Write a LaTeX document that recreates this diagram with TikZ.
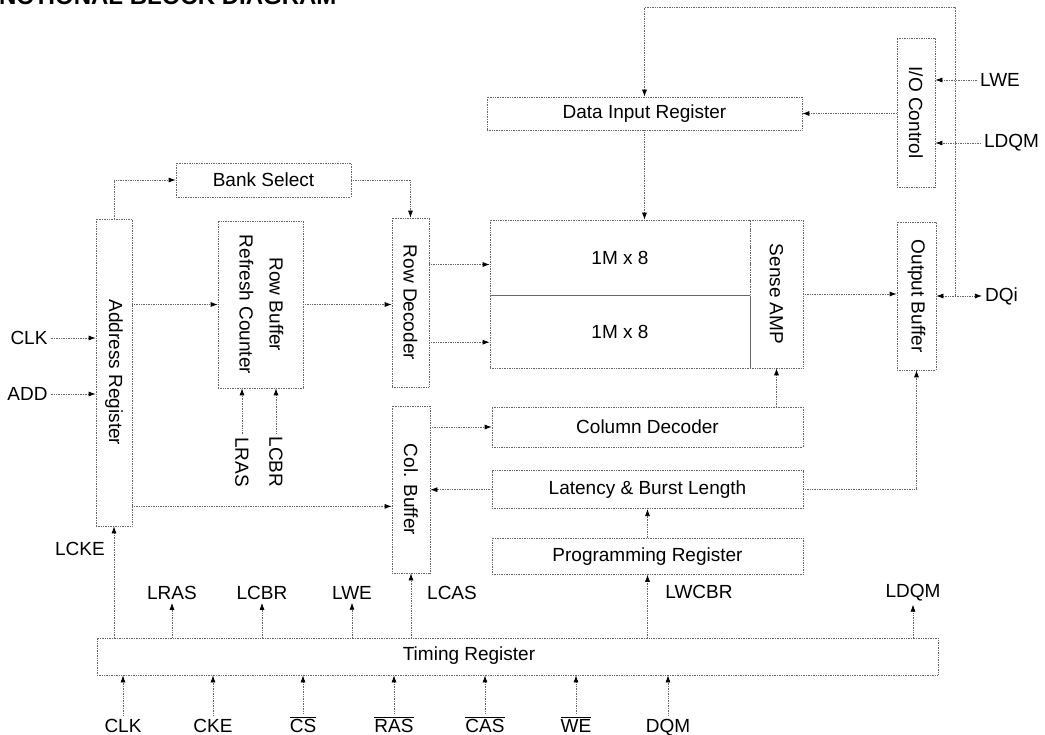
\documentclass[tikz,border=0pt]{standalone}
\usepackage{fontspec}
\setmainfont{Liberation Sans}
\usepackage{graphicx}
\usetikzlibrary{arrows.meta,positioning}

\begin{document}
\begin{tikzpicture}[
    x=1pt, y=-1pt,
    >={Latex[length=7pt,width=5pt,color=black]},
    blk/.style={draw=black!60, densely dotted, line width=0.7pt, align=center, inner sep=2pt, font=\fontsize{19}{30}\selectfont},
    sig/.style={font=\fontsize{19}{23}\selectfont, inner sep=3pt},
    pin/.style={sig, anchor=base},
    wire/.style={draw=black!60, densely dotted, line width=0.7pt, ->}
]
\useasboundingbox (0,0) rectangle (1045,735);
\node[anchor=base east, font=\bfseries\fontsize{24}{28}\selectfont] (title) at (340,5) {FUNCTIONAL BLOCK DIAGRAM};

\node[blk, minimum width=175, minimum height=34] (bank) at (263.5,180) {Bank Select};
\node[blk, minimum width=36, minimum height=307] (addr) at (114,372.5) {\rotatebox{-90}{Address Register}};
\node[blk, minimum width=85, minimum height=167] (rowbuf) at (260.5,304.5) {\rotatebox{-90}{\begin{tabular}{@{}c@{}}Row Buffer\\Refresh Counter\end{tabular}}};
\node[blk, minimum width=37, minimum height=169] (rowdec) at (410.5,302.5) {\rotatebox{-90}{Row Decoder}};
\node[blk, minimum width=38, minimum height=167] (colbuf) at (411,489.5) {\rotatebox{-90}{Col. Buffer}};
\node[blk, minimum width=315, minimum height=33] (dir) at (644.5,113.5) {Data Input Register};
\node[blk, minimum width=38, minimum height=149] (io) at (916,112.5) {\rotatebox{-90}{I/O Control}};
\node[blk, minimum width=260, minimum height=75] (arrA) at (620,257.5) {1M x 8};
\node[blk, minimum width=260, minimum height=73, below=0pt of arrA] (arrB) {1M x 8};
\node[blk, minimum width=53, minimum height=148] (sense) at (776.5,294) {\rotatebox{-90}{Sense AMP}};
\node[blk, minimum width=39, minimum height=148] (outbuf) at (916.5,296) {\rotatebox{-90}{Output Buffer}};
\node[blk, minimum width=311, minimum height=40] (coldec) at (647.5,427) {Column Decoder};
\node[blk, minimum width=311, minimum height=38, below=23pt of coldec] (lat) {Latency \& Burst Length};
\node[blk, minimum width=311, minimum height=36, below=29pt of lat] (prog) {Programming Register};
\node[blk, minimum width=841, minimum height=37] (timing) at (517.5,656.5) {};
\node[sig] (timinglbl) at (469,656) {Timing Register};

\node[sig] (clk) at (29,338) {CLK};
\node[sig] (add) at (27.5,394) {ADD};
\node[sig] (lwe) at (1000,80) {LWE};
\node[sig] (ldqm) at (1011.5,143) {LDQM};
\node[sig] (dqi) at (1001.5,296) {DQi};
\node[sig] (lcke) at (80,549) {LCKE};
\node[sig] (lras) at (172,593) {LRAS};
\node[sig] (lcbr) at (262,593) {LCBR};
\node[sig] (tlwe) at (352,593) {LWE};
\node[sig] (lcas) at (452,593) {LCAS};
\node[sig] (lwcbr) at (699,592) {LWCBR};
\node[sig] (tldqm) at (913,593) {LDQM};
\node[sig, rotate=-90] (rlras) at (242,462) {LRAS};
\node[sig, rotate=-90] (rlcbr) at (276,462) {LCBR};

\node[pin] (iclk) at (123,732) {CLK};
\node[pin] (icke) at (213,732) {CKE};
\node[pin] (ics) at (303,732) {$\overline{\hbox{CS}}$};
\node[pin] (iras) at (394,732) {$\overline{\hbox{RAS}}$};
\node[pin] (icas) at (485,732) {$\overline{\hbox{CAS}}$};
\node[pin] (iwe) at (576,732) {$\overline{\hbox{WE}}$};
\node[pin] (idqm) at (668,732) {DQM};

\coordinate (dqtap) at (955,296);
\coordinate (dqtop) at (955,7);
\coordinate (addrtap) at ([yshift=20pt]addr.south east);

\draw[wire] (clk.east) -- (clk -| addr.west);
\draw[wire] (add.east) -- (add -| addr.west);
\draw[wire] (addr.north) |- (bank.west);
\draw[wire] (bank.east) -| (rowdec.north);
\draw[wire] (addr.east |- rowbuf.west) -- (rowbuf.west);
\draw[wire] (rowbuf.east) -- (rowbuf.east -| rowdec.west);
\draw[wire] ([yshift=-7pt]arrA.west -| rowdec.east) -- ([yshift=-7pt]arrA.west);
\draw[wire] ([yshift=-10pt]arrB.west -| rowdec.east) -- ([yshift=-10pt]arrB.west);
\draw[wire] (dqtap) -- (dqtop) -| (dir.north);
\draw[wire] (dir.south) -- (dir.south |- arrA.north);
\draw[wire] (io.west |- dir.east) -- (dir.east);
\draw[wire] (lwe.west) -- (lwe -| io.east);
\draw[wire] (ldqm.west) -- (ldqm -| io.east);
\draw[wire] (sense.east) -- (sense.east -| outbuf.west);
\draw[wire, <->] (outbuf.east) -- (dqi.west);
\draw[wire] (sense.south |- coldec.north) -- (sense.south);
\draw[wire] (colbuf.east |- coldec.west) -- (coldec.west);
\draw[wire] (lat.west) -- (lat.west -| colbuf.east);
\draw[wire] (addrtap) -- (addrtap -| colbuf.west);
\draw[wire] (lat.east) -| (outbuf.south);
\draw[wire] (prog.north) -- (lat.south);
\draw[wire] (rlras.west) -- (rlras.west |- rowbuf.south);
\draw[wire] (rlcbr.west) -- (rlcbr.west |- rowbuf.south);

\draw[wire] (addr.south |- timing.north) -- (addr.south);
\draw[wire] (lras |- timing.north) -- (lras.south);
\draw[wire] (lcbr |- timing.north) -- (lcbr.south);
\draw[wire] (tlwe |- timing.north) -- (tlwe.south);
\draw[wire] (colbuf.south |- timing.north) -- (colbuf.south);
\draw[wire] (prog.south |- timing.north) -- (prog.south);
\draw[wire] (tldqm |- timing.north) -- (tldqm.south);

\draw[wire] (iclk.north) -- (iclk.north |- timing.south);
\draw[wire] (icke.north) -- (icke.north |- timing.south);
\draw[wire] (ics.north) -- (ics.north |- timing.south);
\draw[wire] (iras.north) -- (iras.north |- timing.south);
\draw[wire] (icas.north) -- (icas.north |- timing.south);
\draw[wire] (iwe.north) -- (iwe.north |- timing.south);
\draw[wire] (idqm.north) -- (idqm.north |- timing.south);
\end{tikzpicture}
\end{document}
